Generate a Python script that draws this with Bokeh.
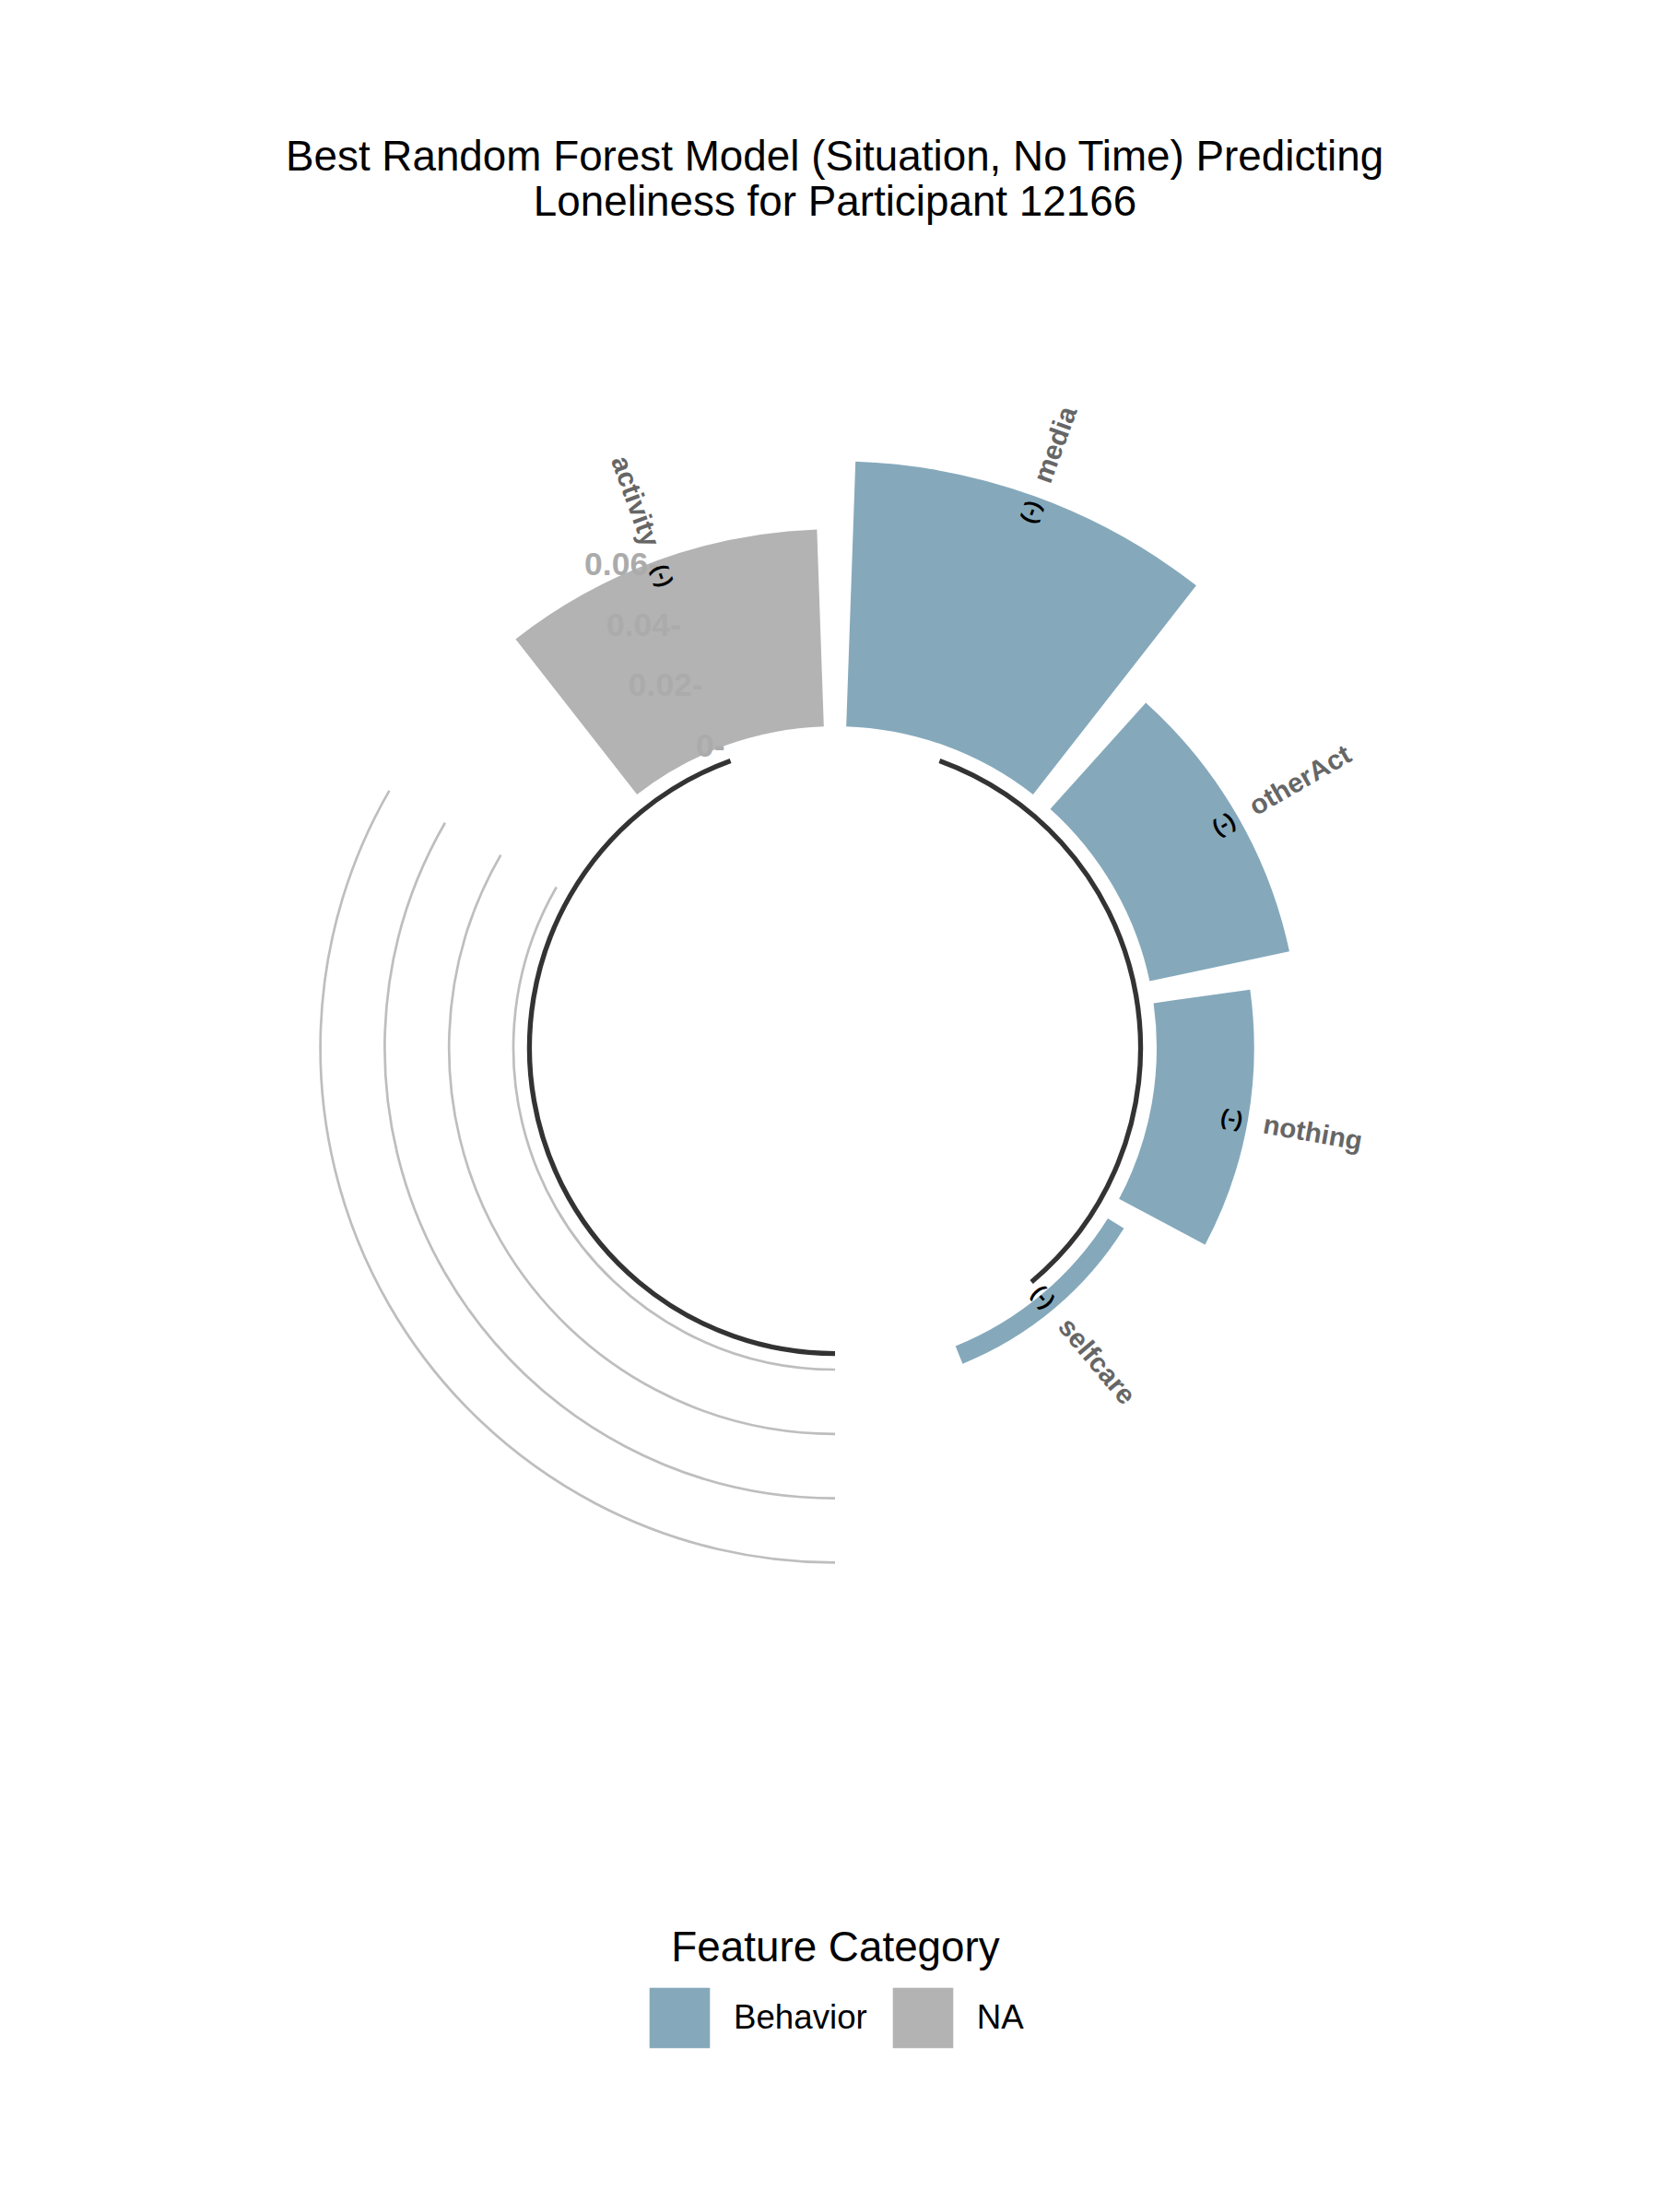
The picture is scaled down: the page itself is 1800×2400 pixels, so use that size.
import numpy as np
from bokeh.plotting import figure
from bokeh.models import ColumnDataSource, Range1d, Legend, LegendItem
from bokeh.core.properties import value
from bokeh.embed import file_html
from bokeh.resources import INLINE

# ---------------- data ----------------
features = ["media", "otherAct", "nothing", "selfcare", "activity"]
importance = [0.0824, 0.0444, 0.0303, 0.0059, 0.0613]
category = ["Behavior", "Behavior", "Behavior", "Behavior", "NA"]
sign_label = ["(-)", "(-)", "(-)", "(-)", "(-)"]
category_levels = ["Behavior", "NA"]
category_colors = ["#85A9BB", "#B3B3B3"]
empty_bar = 4
grid_values = [0.0, 0.02, 0.04, 0.06]
grid_labels = ["0-", "0.02-", "0.04-", "0.06-"]
title_lines = ["Best Random Forest Model (Situation, No Time) Predicting",
               "Loneliness for Participant 12166"]
legend_title = "Feature Category"

# -------------- polar scales --------------
W, H = 1800, 2400
CX, CY = 905.5, 2400 - 1136.5       # polar centre (data units == px)
Y_MIN = -0.1                          # ylim lower (inner hole)
K = 3490.0                            # px per unit of importance
BASE_Y = -0.005                       # group baseline level
LABEL_OFF = 0.005

def rad(v):
    return (np.asarray(v, dtype=float) - Y_MIN) * K

# slot ids: group after group, empty bars between groups
ids = [0] * len(features)
group_span = {}
cur = 0
for gi, g in enumerate(category_levels):
    start = cur + 1
    for i, c in enumerate(category):
        if c == g:
            cur += 1
            ids[i] = cur
    group_span[g] = (start, cur)
    if gi < len(category_levels) - 1:
        cur += empty_bar
n_slots = cur
# the NA group's baseline starts right after previous group (covers the gap)
span_list = []
prev_end = 0
for g in category_levels:
    s, e = group_span[g]
    if prev_end and s - prev_end > 1:
        s = prev_end + 1
    span_list.append((s, e))
    prev_end = group_span[g][1]
grid_start = group_span[category_levels[0]][1] + 1
grid_end = group_span[category_levels[1]][0] - 1

def theta(x):
    return (np.asarray(x, dtype=float) - 0.5) / n_slots * 2 * np.pi

def bk_angle(x):
    return np.pi / 2 - theta(x)

def pos(x, v):
    t = theta(x)
    r = rad(v)
    return CX + r * np.sin(t), CY + r * np.cos(t)

# -------------- figure --------------
p = figure(width=W, height=H, x_range=Range1d(0, W), y_range=Range1d(0, H),
           output_backend="svg", toolbar_location=None, min_border=0)
p.axis.visible = False
p.grid.visible = False
p.outline_line_color = None
p.background_fill_color = "white"
p.border_fill_color = "white"

FONT = value("Liberation Sans")

# grid arcs in the empty gap
p.arc(x=[CX] * len(grid_values), y=[CY] * len(grid_values), radius=rad(grid_values).tolist(),
      start_angle=float(bk_angle(grid_end)), end_angle=float(bk_angle(grid_start)),
      direction="anticlock", line_color="#BEBEBE", line_width=2.7)

# bars
bar_renderers = {}
for g, col in zip(category_levels, category_colors):
    idx = [i for i, c in enumerate(category) if c == g]
    src = ColumnDataSource(dict(
        x=[CX] * len(idx), y=[CY] * len(idx),
        inner=[float(rad(0.0))] * len(idx),
        outer=[float(rad(importance[i])) for i in idx],
        start=[float(bk_angle(ids[i] + 0.45)) for i in idx],
        end=[float(bk_angle(ids[i] - 0.45)) for i in idx],
    ))
    bar_renderers[g] = p.annular_wedge(x="x", y="y", inner_radius="inner", outer_radius="outer",
                                       start_angle="start", end_angle="end", direction="anticlock",
                                       fill_color=col, line_color=None, source=src)

# radial value labels at the last bar
lx, ly = pos([max(ids)] * len(grid_values), grid_values)
p.text(x=lx.tolist(), y=ly.tolist(), text=grid_labels, text_font=FONT, text_font_size="35.5px",
       text_font_style="bold", text_color="#ABABAB", text_align="right", text_baseline="middle")

# group baselines
for (s, e) in span_list:
    p.arc(x=[CX], y=[CY], radius=[float(rad(BASE_Y))], start_angle=float(bk_angle(e)),
          end_angle=float(bk_angle(s)), direction="anticlock",
          line_color="#333333", line_width=5.3)

# feature labels and sign labels
for hj in (0, 1):
    xs, ys, txt, ang, sx, sy = [], [], [], [], [], []
    for i, f in enumerate(features):
        a = 90 - 360 * (ids[i] - 0.5) / n_slots
        h = 0
        if a < -90:
            a += 180
            h = 1
        if h != hj:
            continue
        px_, py_ = pos(ids[i], importance[i] + LABEL_OFF)
        qx_, qy_ = pos(ids[i], importance[i] - LABEL_OFF)
        xs.append(float(px_)); ys.append(float(py_)); txt.append(f); ang.append(np.deg2rad(a))
        sx.append(float(qx_)); sy.append(float(qy_))
    if not xs:
        continue
    p.text(x=xs, y=ys, text=txt, angle=ang, text_font=FONT, text_font_size="29.6px",
           text_font_style="bold", text_color="#666666",
           text_align="left" if hj == 0 else "right", text_baseline="middle")
    p.text(x=sx, y=sy, text=[sign_label[features.index(t)] for t in txt], angle=ang,
           text_font=FONT, text_font_size="24px", text_font_style="bold", text_color="black",
           text_align="center", text_baseline="middle")

# title
p.text(x=[905.5, 905.5], y=[H - 169, H - 218], text=title_lines, text_font=FONT,
       text_font_size="45.8px", text_color="black", text_align="center",
       text_baseline="alphabetic")

# legend title (centred over the keys, as in the original)
p.text(x=[906], y=[H - 2112], text=[legend_title], text_font=FONT, text_font_size="45.8px",
       text_color="black", text_align="center", text_baseline="alphabetic")

# legend
legend = Legend(items=[LegendItem(label=g, renderers=[bar_renderers[g]]) for g in category_levels],
                orientation="horizontal", location=(696, 170),
                glyph_width=82, glyph_height=82, label_standoff=18, spacing=19,
                padding=0, margin=0,
                label_text_font="Liberation Sans", label_text_font_size="36.7px",
                label_text_color="black", border_line_alpha=0,
                background_fill_alpha=0, label_text_baseline="middle")
p.add_layout(legend, "center")

open("out.html", "w").write(file_html(p, INLINE))
